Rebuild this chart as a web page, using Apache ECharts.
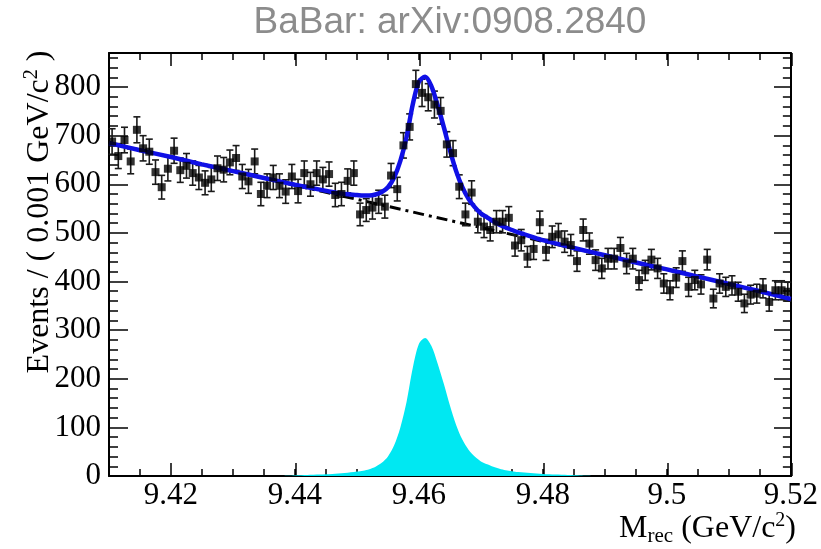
<!DOCTYPE html>
<html><head><meta charset="utf-8">
<script src="https://cdn.jsdelivr.net/npm/echarts@6/dist/echarts.min.js"></script>
<style>html,body{margin:0;padding:0;background:#fff}#c{width:821px;height:549px}</style>
</head><body><div id="c"></div>
<script>
// Histogram binning (0.001 GeV/c^2 bins starting at 9.41)
const binStart = 9.41;
const binWidth = 0.001;
// Events per bin
const counts = [
  688, 658, 691, 647, 712, 674, 667, 625, 594, 632,
  669, 629, 638, 623, 614, 603, 610, 633, 630, 645,
  654, 616, 606, 647, 580, 597, 614, 597, 585, 616,
  586, 623, 600, 623, 610, 621, 578, 580, 607, 623,
  538, 547, 552, 564, 554, 618, 590, 680, 718, 806,
  788, 779, 764, 751, 682, 664, 595, 538, 583, 523,
  513, 506, 523, 523, 531, 474, 485, 451, 467, 522,
  465, 492, 497, 482, 475, 442, 506, 478, 444, 427,
  447, 447, 469, 437, 447, 403, 423, 445, 427, 396,
  382, 408, 442, 389, 403, 394, 445, 365, 396, 389,
  392, 379, 355, 373, 375, 386, 358, 382, 382, 379
];
// Total fit (blue)
const fitX = [9.410, 9.415, 9.420, 9.425, 9.430, 9.435, 9.440, 9.442, 9.444, 9.446, 9.448, 9.450, 9.451, 9.452, 9.453, 9.454, 9.455, 9.456, 9.457, 9.458, 9.459, 9.460, 9.461, 9.462, 9.463, 9.464, 9.465, 9.466, 9.467, 9.468, 9.469, 9.470, 9.471, 9.472, 9.473, 9.474, 9.475, 9.476, 9.477, 9.478, 9.480, 9.485, 9.490, 9.495, 9.500, 9.505, 9.510, 9.515, 9.520];
const fitY = [685, 670, 656, 641, 627, 613, 599, 594, 589, 584, 580, 578, 577, 577, 579, 584, 594, 614, 648, 697, 764, 811, 821, 802, 763, 718, 670, 627, 594, 570, 553, 540, 532, 524, 517, 511, 506, 501, 497, 493, 485, 469, 454, 439, 425, 410, 395, 380, 364];
// Background (dash-dot)
const bgX = [9.41, 9.43, 9.45, 9.47, 9.49, 9.51, 9.52];
const bgY = [685, 627, 569, 511, 454, 395, 364];
// Signal component (cyan)
const sigX = [9.438, 9.440, 9.442, 9.444, 9.446, 9.448, 9.450, 9.451, 9.452, 9.453, 9.454, 9.455, 9.456, 9.457, 9.458, 9.459, 9.460, 9.461, 9.462, 9.463, 9.464, 9.465, 9.466, 9.467, 9.468, 9.469, 9.470, 9.471, 9.472, 9.473, 9.474, 9.475, 9.476, 9.477, 9.478, 9.480, 9.482, 9.484, 9.486, 9.488];
const sigY = [0, 1, 2, 3, 4, 6, 9, 11, 14, 19, 27, 40, 63, 100, 152, 222, 272, 284, 268, 232, 190, 145, 105, 75, 54, 40, 30, 24, 19, 15, 12, 10, 8, 7, 6, 4, 3, 2, 1, 0];
// Tick labels
const xTickLabels = [9.42, 9.44, 9.46, 9.48, 9.5, 9.52];
const yTickLabels = [0, 100, 200, 300, 400, 500, 600, 700, 800];

const X_MIN = 9.41, X_MAX = 9.52, Y_MIN = 0, Y_MAX = 870;

const points = counts.map((c, i) => [binStart + binWidth * (i + 0.5), c]);
const zip = (a, b) => a.map((v, i) => [v, b[i]]);

const serif = '"Liberation Serif", "Times New Roman", serif';
const gridRect = { left: 109, top: 53, width: 683, height: 423 };

function xAx(gridIndex, position, opts) {
  return Object.assign({
    type: 'value', gridIndex, position, min: X_MIN, max: X_MAX,
    splitLine: { show: false },
    axisLine: { show: gridIndex === 0, onZero: false, lineStyle: { color: '#000', width: 2 } },
    axisLabel: { show: false }
  }, opts);
}
function yAx(gridIndex, position, opts) {
  return Object.assign({
    type: 'value', gridIndex, position, min: Y_MIN, max: Y_MAX,
    splitLine: { show: false },
    axisLine: { show: gridIndex === 0, onZero: false, lineStyle: { color: '#000', width: 2 } },
    axisLabel: { show: false }
  }, opts);
}

const option = {
  animation: false,
  backgroundColor: '#fff',
  grid: [Object.assign({}, gridRect), Object.assign({}, gridRect)],
  xAxis: [
    xAx(0, 'bottom', {
      interval: 0.005,
      axisTick: { inside: true, length: 7, lineStyle: { color: '#000', width: 1.5 } },
      axisLabel: { show: true, customValues: xTickLabels, formatter: v => String(+v.toFixed(2)),
        fontFamily: serif, fontSize: 31, color: '#000', margin: 4 }
    }),
    xAx(0, 'top', {
      interval: 0.005,
      axisTick: { inside: true, length: 7, lineStyle: { color: '#000', width: 1.5 } }
    }),
    xAx(1, 'bottom', {
      axisTick: { inside: true, length: 13, customValues: xTickLabels, lineStyle: { color: '#000', width: 1.5 } }
    }),
    xAx(1, 'top', {
      axisTick: { inside: true, length: 13, customValues: xTickLabels, lineStyle: { color: '#000', width: 1.5 } }
    })
  ],
  yAxis: [
    yAx(0, 'left', {
      interval: 20,
      axisTick: { inside: true, length: 9, lineStyle: { color: '#000', width: 1.5 } },
      axisLabel: { show: true, customValues: yTickLabels, fontFamily: serif, fontSize: 31, color: '#000', margin: 8 }
    }),
    yAx(0, 'right', {
      interval: 20,
      axisTick: { inside: true, length: 8, lineStyle: { color: '#000', width: 1.5 } }
    }),
    yAx(1, 'left', {
      axisTick: { inside: true, length: 19, customValues: yTickLabels, lineStyle: { color: '#000', width: 1.5 } }
    }),
    yAx(1, 'right', {
      axisTick: { inside: true, length: 18, customValues: yTickLabels, lineStyle: { color: '#000', width: 1.5 } }
    })
  ],
  series: [
    {
      type: 'line', name: 'signal', xAxisIndex: 0, yAxisIndex: 0,
      data: zip(sigX, sigY), showSymbol: false, smooth: 0.3,
      lineStyle: { width: 0 }, areaStyle: { color: '#00e8f2', opacity: 1 }, z: 1
    },
    {
      type: 'line', name: 'background', xAxisIndex: 0, yAxisIndex: 0,
      data: zip(bgX, bgY), showSymbol: false,
      lineStyle: { color: '#000', width: 3, type: [11, 5, 3, 5] }, z: 2
    },
    {
      type: 'custom', name: 'errors', xAxisIndex: 0, yAxisIndex: 0,
      data: points, encode: { x: 0, y: 1 }, z: 3,
      renderItem: function (params, api) {
        const x = api.value(0), y = api.value(1);
        const e = Math.sqrt(y);
        const t = api.coord([x, y + e]);
        const b = api.coord([x, y - e]);
        const st = { stroke: '#1a1a1a', lineWidth: 1.6 };
        const hw = 3.5;
        return {
          type: 'group', children: [
            { type: 'line', shape: { x1: t[0], y1: t[1], x2: b[0], y2: b[1] }, style: st },
            { type: 'line', shape: { x1: t[0] - hw, y1: t[1], x2: t[0] + hw, y2: t[1] }, style: st },
            { type: 'line', shape: { x1: b[0] - hw, y1: b[1], x2: b[0] + hw, y2: b[1] }, style: st }
          ]
        };
      }
    },
    {
      type: 'line', name: 'fit', xAxisIndex: 0, yAxisIndex: 0,
      data: zip(fitX, fitY), showSymbol: false, smooth: 0.3,
      lineStyle: { color: '#1010e6', width: 4.5 }, z: 4
    },
    {
      type: 'scatter', name: 'data', xAxisIndex: 0, yAxisIndex: 0,
      data: points, symbol: 'rect', symbolSize: 8,
      itemStyle: { color: '#000' }, z: 5
    }
  ],
  graphic: [
    { type: 'text', x: 450, y: 23, style: { text: 'BaBar: arXiv:0908.2840', fill: '#8c8c8c',
      font: '37px "Liberation Sans", Arial, sans-serif', align: 'center', verticalAlign: 'middle' } },
    { type: 'text', x: 40, y: 212, rotation: Math.PI / 2, style: {
      text: '{a|Events / ( 0.001 GeV/c}{s|2}{a| )}', align: 'center', verticalAlign: 'middle',
      rich: {
        a: { fontSize: 32, fontFamily: serif, fill: '#000', lineHeight: 36 },
        s: { fontSize: 20, fontFamily: serif, fill: '#000', lineHeight: 17, verticalAlign: 'top' }
      } } },
    { type: 'text', x: 796, y: 529, style: {
      text: '{a|M}{b|rec}{a| (GeV/c}{s|2}{a|)}', align: 'right', verticalAlign: 'middle',
      rich: {
        a: { fontSize: 32, fontFamily: serif, fill: '#000', lineHeight: 36 },
        b: { fontSize: 21, fontFamily: serif, fill: '#000', lineHeight: 14, verticalAlign: 'bottom' },
        s: { fontSize: 20, fontFamily: serif, fill: '#000', lineHeight: 17, verticalAlign: 'top' }
      } } }
  ]
};

const chart = echarts.init(document.getElementById('c'), null, { renderer: 'canvas' });
chart.setOption(option);
</script></body></html>
